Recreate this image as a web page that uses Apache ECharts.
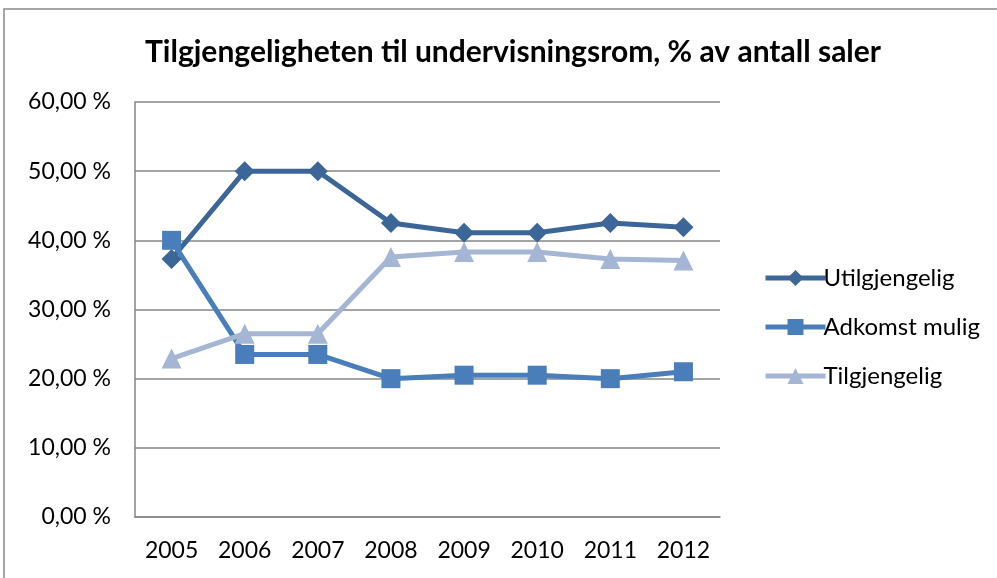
<!DOCTYPE html>
<html><head><meta charset="utf-8">
<script src="https://cdn.jsdelivr.net/npm/echarts@6/dist/echarts.min.js"></script>
<style>html,body{margin:0;padding:0;background:#fff}#c{width:997px;height:578px}</style>
</head><body><div id="c"></div>
<script>
const years = ['2005','2006','2007','2008','2009','2010','2011','2012'];
const utilgjengelig = [37.3, 50.0, 50.0, 42.5, 41.1, 41.1, 42.5, 41.9];
const adkomstMulig = [40.0, 23.5, 23.5, 20.0, 20.5, 20.5, 20.0, 21.0];
const tilgjengelig = [22.9, 26.5, 26.5, 37.6, 38.3, 38.3, 37.3, 37.1];
const font = 'Lato, "Open Sans", sans-serif';
const chart = echarts.init(document.getElementById('c'));
function ser(name, data, color, symbol, size){
  return {name, type:'line', data, symbol, symbolSize:size, lineStyle:{width:5,color}, itemStyle:{color}};
}
chart.setOption({
  animation:false,
  title:{text:'Tilgjengeligheten til undervisningsrom, % av antall saler', left:508, top:32, textAlign:'center',
    textStyle:{fontFamily:font, fontSize:30, fontWeight:'bold', color:'#000'}},
  grid:{left:135, right:277, top:102, bottom:61},
  xAxis:{type:'category', data:years, boundaryGap:true,
    axisLine:{show:true, lineStyle:{color:'#868686', width:1.5}}, axisTick:{show:false},
    axisLabel:{fontFamily:font, fontSize:23, color:'#000', margin:22}},
  yAxis:{type:'value', min:0, max:60, interval:10,
    axisLine:{show:true, lineStyle:{color:'#868686', width:1.5}}, axisTick:{show:false},
    splitLine:{lineStyle:{color:'#868686', width:1.5}},
    axisLabel:{fontFamily:font, fontSize:23, color:'#000', margin:24, formatter:v=>v.toFixed(2).replace('.',',')+' %'}},
  legend:{orient:'vertical', left:758, top:261, itemWidth:60, itemHeight:20, itemGap:25,
    lineStyle:{width:5},
    textStyle:{fontFamily:font, fontSize:24, color:'#000', padding:[0,0,0,-7]},
    data:['Utilgjengelig','Adkomst mulig','Tilgjengelig']},
  graphic:[{type:'rect', shape:{x:4, y:9, width:1100, height:700}, style:{fill:'none', stroke:'#888', lineWidth:1.5}}],
  series:[
    ser('Utilgjengelig', utilgjengelig, '#3c6698', 'diamond', 20),
    ser('Adkomst mulig', adkomstMulig, '#4a7ebb', 'rect', 19),
    ser('Tilgjengelig', tilgjengelig, '#a5b6d4', 'triangle', 20)
  ]
});
</script></body></html>
